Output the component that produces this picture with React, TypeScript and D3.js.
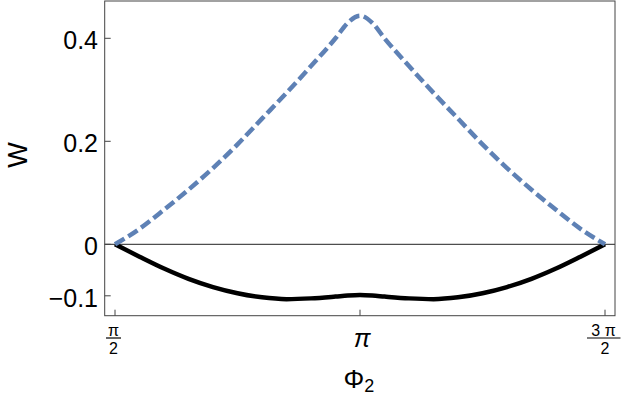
import React from "react";
import * as d3 from "d3";

// phi in units of pi
const phi = [0.5, 0.55, 0.6, 0.65, 0.7, 0.75, 0.8, 0.85, 0.9, 0.95, 0.975, 1.0,
  1.025, 1.05, 1.1, 1.15, 1.2, 1.25, 1.3, 1.35, 1.4, 1.45, 1.5];
// dashed blue curve
const wUpper = [0, 0.030, 0.067, 0.106, 0.148, 0.194, 0.244, 0.294, 0.346, 0.400, 0.430, 0.444,
  0.430, 0.400, 0.346, 0.294, 0.244, 0.194, 0.148, 0.106, 0.067, 0.030, 0];
// solid black curve
const wLower = [0, -0.024, -0.047, -0.067, -0.083, -0.095, -0.103, -0.1065, -0.105, -0.1015, -0.0995, -0.0985,
  -0.0995, -0.1015, -0.105, -0.1065, -0.103, -0.095, -0.083, -0.067, -0.047, -0.024, 0];
const yTicks = [0.4, 0.2, 0, -0.1];
const yTickLabels = ["0.4", "0.2", "0", "\u22120.1"];
const xTicks = [0.5, 1, 1.5];

const W = 623, H = 402;
const frame = { left: 104.7, right: 615, top: 1, bottom: 315.7 };
const font = "'Liberation Sans', Arial, sans-serif";

export default function App() {
  const x = d3.scaleLinear().domain([0.5, 1.5]).range([115, 605]);
  const y = d3.scaleLinear().domain([0, 0.4]).range([244.3, 38.3]);

  const line = d3.line<number>()
    .x((d, i) => x(phi[i]))
    .y(d => y(d))
    .curve(d3.curveMonotoneX);

  return (
    <svg width={W} height={H} style={{ position: "absolute", left: 0, top: 0, background: "#fff" }}>
      {/* zero line */}
      <line x1={frame.left} x2={frame.right} y1={y(0)} y2={y(0)} stroke="#222" strokeWidth={1} />
      <path d={line(wLower) || ""} fill="none" stroke="#000" strokeWidth={4.5} strokeLinejoin="round" />
      <path d={line(wUpper) || ""} fill="none" stroke="#5E81B5" strokeWidth={4.5} strokeDasharray="11,4.5" />
      <rect x={frame.left} y={frame.top} width={frame.right - frame.left} height={frame.bottom - frame.top}
        fill="none" stroke="#444" strokeWidth={1} />
      {yTicks.map((t, i) => (
        <g key={"y" + i}>
          <line x1={frame.left} x2={frame.left + 6} y1={y(t)} y2={y(t)} stroke="#444" />
          <text x={98} y={y(t) + 11} textAnchor="end" fontFamily={font} fontSize={25}>{yTickLabels[i]}</text>
        </g>
      ))}
      {xTicks.map((t, i) => (
        <line key={"x" + i} x1={x(t)} x2={x(t)} y1={frame.bottom} y2={frame.bottom - 6} stroke="#444" />
      ))}
      <g fontFamily={font} textAnchor="middle">
        {/* pi/2 */}
        <text x={x(0.5) - 1.5} y={336} fontSize={16}>π</text>
        <line x1={x(0.5) - 9} x2={x(0.5) + 6} y1={338} y2={338} stroke="#000" strokeWidth={1.2} />
        <text x={x(0.5) - 1.5} y={353.5} fontSize={16}>2</text>
        {/* pi */}
        <text x={x(1) + 2} y={347} fontSize={25} fontStyle="italic">π</text>
        {/* 3pi/2 */}
        <text x={x(1.5) - 1.5} y={336} fontSize={16}>3 π</text>
        <line x1={x(1.5) - 18} x2={x(1.5) + 15.5} y1={338} y2={338} stroke="#000" strokeWidth={1.2} />
        <text x={x(1.5)} y={353.5} fontSize={16}>2</text>
        <text x={359} y={388} fontSize={26}>Φ<tspan fontSize={18} dy={4}>2</tspan></text>
      </g>
      <text transform="translate(27,155) rotate(-90)" textAnchor="middle" fontFamily={font} fontSize={27}>W</text>
    </svg>
  );
}
